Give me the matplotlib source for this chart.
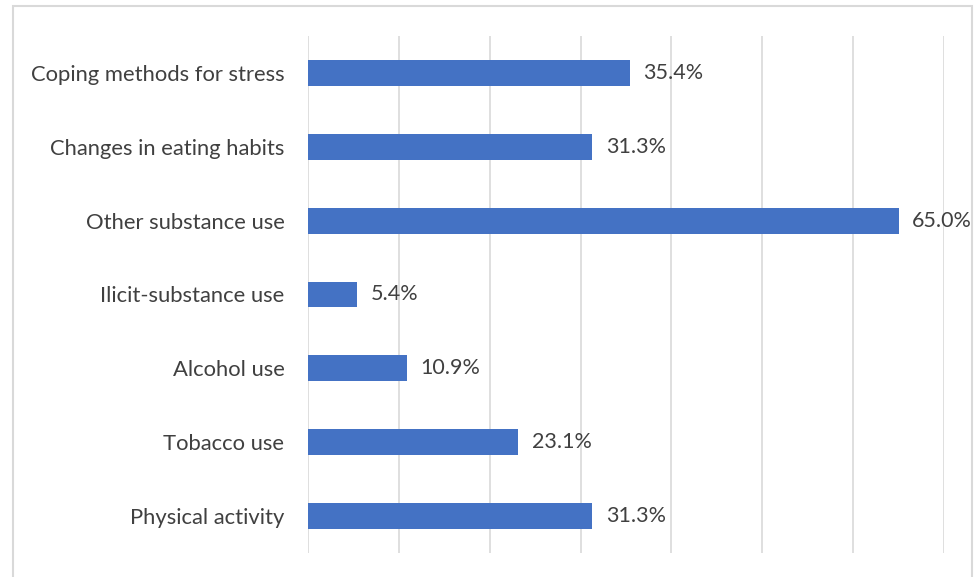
import matplotlib.pyplot as plt
from matplotlib.patches import Rectangle

categories = ["Coping methods for stress", "Changes in eating habits", "Other substance use",
              "Ilicit-substance use", "Alcohol use", "Tobacco use", "Physical activity"]
values = [35.4, 31.3, 65.0, 5.4, 10.9, 23.1, 31.3]

W, H = 974, 577
fig = plt.figure(figsize=(W / 100, H / 100), dpi=100)
plt.rcParams['font.family'] = ['Lato', 'DejaVu Sans']

# outer frame like the source screenshot
fig.patches.append(Rectangle((13 / W, -0.05), (972 - 13) / W, 1.05 - 6 / H,
                             transform=fig.transFigure, fill=False,
                             edgecolor='#d9d9d9', linewidth=1.5))

ax = fig.add_axes([308 / W, 1 - 553 / H, (944 - 308) / W, (553 - 36) / H])

y = list(range(len(categories)))[::-1]
ax.barh(y, values, height=0.35, color='#4472C4')
for yi, v in zip(y, values):
    ax.text(v + 1.5, yi, f"{v:.1f}%", va='center', ha='left', fontsize=15.5, color='#404040')

ax.set_xlim(0, 70)
ax.set_ylim(-0.5, len(categories) - 0.5)
ax.set_xticks(range(0, 71, 10))
ax.xaxis.grid(True, color='#d9d9d9', linewidth=1.2)
ax.set_axisbelow(True)
ax.tick_params(axis='x', length=0, labelbottom=False)
ax.set_yticks(y)
ax.set_yticklabels(categories, fontsize=15.8, color='#404040')
ax.tick_params(axis='y', length=0, pad=17)
for s in ax.spines.values():
    s.set_visible(False)

fig.savefig("out.png", dpi=100)
